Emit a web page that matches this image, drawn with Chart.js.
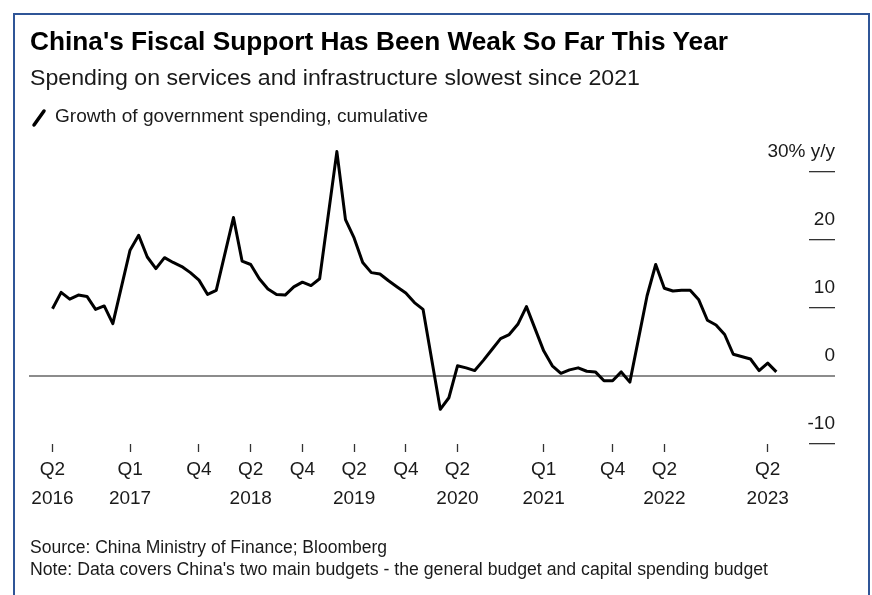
<!DOCTYPE html>
<html><head><meta charset="utf-8">
<script src="https://cdn.jsdelivr.net/npm/chart.js@4.4.0/dist/chart.umd.min.js"></script>
<style>
html,body{margin:0;padding:0;background:#fff;}
#wrap{position:relative;width:872px;height:595px;overflow:hidden;background:#fff;font-family:"Liberation Sans",Arial,sans-serif;color:#1a1a1a;}
#frame{position:absolute;left:13px;top:13px;width:853px;height:640px;border:2px solid #2f5597;border-bottom:none;}
.t{position:absolute;white-space:nowrap;line-height:1;transform-origin:0 50%;}
canvas{position:absolute;left:0;top:0;}
#title{left:30px;top:28px;font-size:26px;font-weight:bold;color:#000;}
#sub{left:30px;top:67px;font-size:22px;}
#leg{left:55px;top:107px;font-size:18px;}
#src{left:30px;top:539px;font-size:17.5px;}
#note{left:30px;top:561px;font-size:17.5px;}
#legicon{position:absolute;left:30px;top:107px;}
</style></head>
<body><div id="wrap">
<canvas id="c" width="872" height="595"></canvas>
<div id="frame"></div>
<div class="t" id="title" data-w="698">China's Fiscal Support Has Been Weak So Far This Year</div>
<div class="t" id="sub" data-w="610">Spending on services and infrastructure slowest since 2021</div>
<svg id="legicon" width="20" height="22"><line x1="4" y1="18" x2="14" y2="4" stroke="#000" stroke-width="3.5" stroke-linecap="round"/></svg>
<div class="t" id="leg" data-w="373">Growth of government spending, cumulative</div>
<div class="t" id="src" data-w="357">Source: China Ministry of Finance; Bloomberg</div>
<div class="t" id="note" data-w="738">Note: Data covers China's two main budgets - the general budget and capital spending budget</div>
</div>
<script>
// ---- data ----
const categories = [
 '2016-05','2016-06','2016-07','2016-08','2016-09','2016-10','2016-11','2016-12',
 '2017-02','2017-03','2017-04','2017-05','2017-06','2017-07','2017-08','2017-09','2017-10','2017-11','2017-12',
 '2018-02','2018-03','2018-04','2018-05','2018-06','2018-07','2018-08','2018-09','2018-10','2018-11','2018-12',
 '2019-02','2019-03','2019-04','2019-05','2019-06','2019-07','2019-08','2019-09','2019-10','2019-11','2019-12',
 '2020-02','2020-03','2020-04','2020-05','2020-06','2020-07','2020-08','2020-09','2020-10','2020-11','2020-12',
 '2021-02','2021-03','2021-04','2021-05','2021-06','2021-07','2021-08','2021-09','2021-10','2021-11','2021-12',
 '2022-02','2022-03','2022-04','2022-05','2022-06','2022-07','2022-08','2022-09','2022-10','2022-11','2022-12',
 '2023-02','2023-03','2023-04','2023-05'
];
const spendingGrowth = [
 9.9,12.3,11.3,11.9,11.7,9.8,10.3,7.7,
 18.5,20.7,17.5,15.8,17.4,16.7,16.1,15.2,14.1,12.0,12.6,
 23.3,16.9,16.4,14.3,12.8,12.0,11.9,13.1,13.8,13.3,14.3,
 33.0,23.0,20.3,16.7,15.2,15.0,14.0,13.1,12.2,10.8,9.8,
 -4.9,-3.2,1.5,1.2,0.8,2.3,3.9,5.5,6.1,7.6,10.2,
 3.7,1.5,0.4,0.9,1.2,0.7,0.6,-0.7,-0.7,0.6,-0.9,
 11.8,16.4,12.9,12.5,12.6,12.6,11.2,8.2,7.5,6.1,3.2,
 2.5,0.8,1.9,0.6
];
const xTickMonths = ['2016-05','2017-02','2017-10','2018-04','2018-10','2019-04','2019-10','2020-04','2021-02','2021-10','2022-04','2023-04'];
const xTickQuarters = ['Q2','Q1','Q4','Q2','Q4','Q2','Q4','Q2','Q1','Q4','Q2','Q2'];
const xTickYears = ['2016','2017','','2018','','2019','','2020','2021','','2022','2023'];
const yTickValues = [-10,0,10,20,30];
const yTickLabels = ['-10','0','10','20','30% y/y'];

function monthIndex(s){const [y,m]=s.split('-').map(Number);return (y-2016)*12+(m-1);}

// fit header/footer texts horizontally
document.querySelectorAll('.t').forEach(el=>{
  const w=el.getBoundingClientRect().width;
  const tw=+el.dataset.w;
  el.style.transform='scaleX('+(tw/w)+')';
});

const FAM='"Liberation Sans", Arial, sans-serif';
const yFont={family:FAM,size:19};
const xTickVals=xTickMonths.map(monthIndex);
const LABEL_RIGHT=835;

const chart=new Chart(document.getElementById('c'),{
  type:'line',
  data:{datasets:[{
    data:categories.map((m,i)=>({x:monthIndex(m),y:spendingGrowth[i]})),
    borderColor:'#000',borderWidth:3,pointRadius:0,tension:0,clip:false,fill:false,
    borderJoinStyle:'round',borderCapStyle:'butt'
  }]},
  options:{
    responsive:false,animation:false,devicePixelRatio:1,
    layout:{padding:{left:29,right:37,top:172,bottom:81}},
    plugins:{legend:{display:false},tooltip:{enabled:false}},
    scales:{
      x:{type:'linear',min:1.273,max:91.79,
        afterBuildTicks:s=>{s.ticks=xTickVals.map(v=>({value:v}));},
        afterFit:s=>{s.height=70;},
        grid:{drawOnChartArea:false,drawTicks:true,tickLength:8,tickColor:'#333',tickWidth:1.3},
        border:{display:false},
        ticks:{autoSkip:false,maxRotation:0,minRotation:0,padding:4,color:'#1a1a1a',
          font:{family:FAM,size:19,lineHeight:1.5},
          callback:(v)=>{const i=xTickVals.indexOf(v);return [xTickQuarters[i],xTickYears[i]];}}
      },
      y:{type:'linear',position:'right',min:-10,max:30,
        afterBuildTicks:s=>{s.ticks=yTickValues.map(v=>({value:v}));},
        afterFit:s=>{s.width=26;},
        grid:{drawOnChartArea:true,
          color:c=>(c.tick&&c.tick.value===0)?'#8c8c8c':'rgba(0,0,0,0)',
          lineWidth:c=>(c.tick&&c.tick.value===0)?2:1.3,
          tickLength:26,
          tickColor:c=>(c.tick&&c.tick.value===0)?'#8c8c8c':'#333',
          tickWidth:c=>(c.tick&&c.tick.value===0)?2:1.3},
        border:{display:false},
        ticks:{mirror:true,crossAlign:'near',padding:10,labelOffset:-20,color:'#1a1a1a',font:yFont,
          callback:(v)=>yTickLabels[yTickValues.indexOf(v)]}
      }
    }
  }
});
// place mirrored labels so their right edge sits at the end of the tick marks
(function(){
  const sc=chart.scales.y;
  const item=sc.getLabelItems()[0];
  const x=item.options.translation[0];
  const sign=(x-sc.left)/10 || 1;
  chart.options.scales.y.ticks.padding=(LABEL_RIGHT-sc.left)*sign;
  chart.update('none');
})();
</script>
</body></html>
